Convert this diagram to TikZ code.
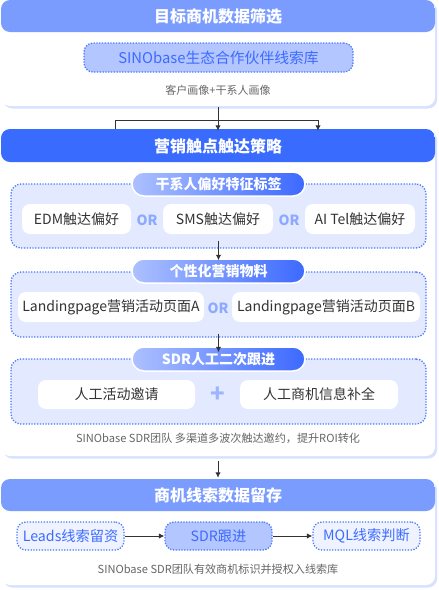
\documentclass[tikz,border=0pt]{standalone}
\usepackage{fontspec}
\setmainfont{Noto Sans CJK SC}
\usetikzlibrary{shadows,arrows.meta}
\definecolor{hdrlight}{HTML}{7B9CFF}
\definecolor{hdrdark}{HTML}{3A6BFF}
\definecolor{shadowc}{HTML}{D8E2FF}
\definecolor{groupc}{HTML}{E3EAFF}
\definecolor{dotc}{HTML}{4A78FF}
\definecolor{pillc}{HTML}{B3C6FF}
\definecolor{bluetext}{HTML}{3D6BFF}
\definecolor{orc}{HTML}{8DA9FF}
\definecolor{plusc}{HTML}{9DB4FF}
\definecolor{capc}{HTML}{666666}
\definecolor{textc}{HTML}{333333}
\definecolor{lightnode}{HTML}{EEF3FF}
\definecolor{gradl}{HTML}{ADC1FF}
\definecolor{gradr}{HTML}{3C69FF}
\begin{document}
\begin{tikzpicture}[x=1pt,y=-1pt,
  card/.style={fill=white, rounded corners=9pt, inner sep=0pt,
    drop shadow={shadow xshift=2.2pt, shadow yshift=-2.5pt, fill=shadowc, opacity=1}},
  hdr/.style 2 args={path picture={\fill[#1] (path picture bounding box.north west) rectangle ([yshift=-#2]path picture bounding box.north east);}},
  title/.style={text=white, font=\fontsize{16}{18}\selectfont\bfseries},
  group/.style={fill=groupc, draw=dotc, line width=1.3pt, dash pattern=on 1.3pt off 1.5pt, rounded corners=10pt, minimum width=415pt, inner sep=0pt},
  pill/.style={left color=gradl, right color=gradr, draw=white, line width=1.5pt, rounded corners=12pt, minimum width=173pt, minimum height=24pt, text=white, font=\fontsize{14}{16}\selectfont\bfseries, inner sep=0pt},
  wbox/.style={fill=white, rounded corners=8pt, minimum height=30pt, inner sep=0pt, text=textc, font=\fontsize{14}{16}\selectfont},
  ortext/.style={text=orc, font=\fontsize{14}{16}\selectfont\bfseries},
  caption/.style={text=capc, font=\fontsize{11.1}{13}\selectfont},
  dnode/.style={draw=dotc, line width=1.3pt, dash pattern=on 1.3pt off 1.5pt, rounded corners=9pt, minimum width=107pt, minimum height=28pt, inner sep=0pt, text=bluetext, font=\fontsize{14.2}{16}\selectfont},
  arr/.style={draw=textc, line width=1pt, -{Latex[length=5.5pt,width=5.5pt]}},
  ln/.style={draw=textc, line width=1pt}]
\useasboundingbox (0,0) rectangle (439,590);

% cards
\node[card, hdr={hdrlight}{32pt}, minimum width=434pt, minimum height=106pt] (c1) at (218,53) {};
\node[card, hdr={hdrdark}{33pt}, minimum width=434pt, minimum height=327pt] (c2) at (218,292.5) {};
\node[card, hdr={hdrlight}{32pt}, minimum width=434pt, minimum height=106pt] (c3) at (218,532) {};

\node[title] (t1) at (218,16) {目标商机数据筛选};
\node[title] (t2) at (218,146) {营销触点触达策略};
\node[title] (t3) at (218,495) {商机线索数据留存};

% section 1
\node[dnode, fill=pillc, minimum width=269pt, minimum height=29pt, font=\fontsize{14.8}{16}\selectfont] (s1) at (218.5,57.5) {SINObase生态合作伙伴线索库};
\node[caption, font=\fontsize{11}{13}\selectfont] (cap1) at (218,90) {客户画像+干系人画像};

\coordinate (jl) at (115,120);
\coordinate (jm) at (218,120);
\coordinate (jr) at (318,120);
\draw[ln] ([yshift=-1pt]c1.south) -- (jm);
\draw[ln] (jl) -- (jr);
\draw[ln] (jl) -- (jl |- c2.north);
\draw[arr] (jm) -- ([yshift=-2pt]c2.north);
\draw[arr] (jr) -- ([yshift=-2pt]jr |- c2.north);

% group 1
\node[group, minimum height=64pt] (g1) at (218.5,216) {};
\node[pill] (p1) at (218.5,184) {干系人偏好特征标签};
\node[wbox, minimum width=109pt] (b11) at (76.5,219) {EDM触达偏好};
\node[wbox, minimum width=110pt] (b12) at (218,219) {SMS触达偏好};
\node[wbox, minimum width=110pt] (b13) at (360,219) {AI Tel触达偏好};
\node[ortext] (o11) at (147,220) {OR};
\node[ortext] (o12) at (289,220) {OR};

% group 2
\node[group, minimum height=65pt] (g2) at (218.5,304.5) {};
\node[pill] (p2) at (218.5,271) {个性化营销物料};
\draw[arr] ([yshift=8pt]g1.south) -- ([yshift=-2pt]p2.north);
\node[wbox, minimum width=186pt] (b21) at (111,307) {Landingpage营销活动页面A};
\node[wbox, minimum width=188pt] (b22) at (326,307) {Landingpage营销活动页面B};
\node[ortext] (o21) at (218,308) {OR};

% group 3
\node[group, minimum height=65pt] (g3) at (218.5,391.5) {};
\node[pill] (p3) at (218.5,359) {SDR人工二次跟进};
\draw[arr] ([yshift=4pt]g2.south) -- ([yshift=-6pt]p3.north);
\node[wbox, minimum width=157pt, minimum height=29pt] (b31) at (116.5,394.5) {人工活动邀请};
\node[wbox, minimum width=158pt, minimum height=29pt] (b32) at (319,394.5) {人工商机信息补全};
\node[text=plusc, font=\fontsize{24}{24}\selectfont\bfseries] (plus) at (218,395) {+};
\node[caption] (cap2) at (218,438) {SINObase SDR团队 多渠道多波次触达邀约，提升ROI转化};

\draw[arr] ([yshift=-5pt]c2.south) -- ([yshift=1pt]c3.north);

% section 3
\node[dnode, fill=lightnode] (n1) at (70.5,536) {Leads线索留资};
\node[dnode, fill=pillc] (n2) at (218.5,536) {SDR跟进};
\node[dnode, fill=lightnode] (n3) at (366.5,536) {MQL线索判断};
\draw[arr] (n1.east) -- (n2.west);
\draw[arr] (n2.east) -- (n3.west);
\node[caption] (cap3) at (218,569) {SINObase SDR团队有效商机标识并授权入线索库};
\end{tikzpicture}
\end{document}
